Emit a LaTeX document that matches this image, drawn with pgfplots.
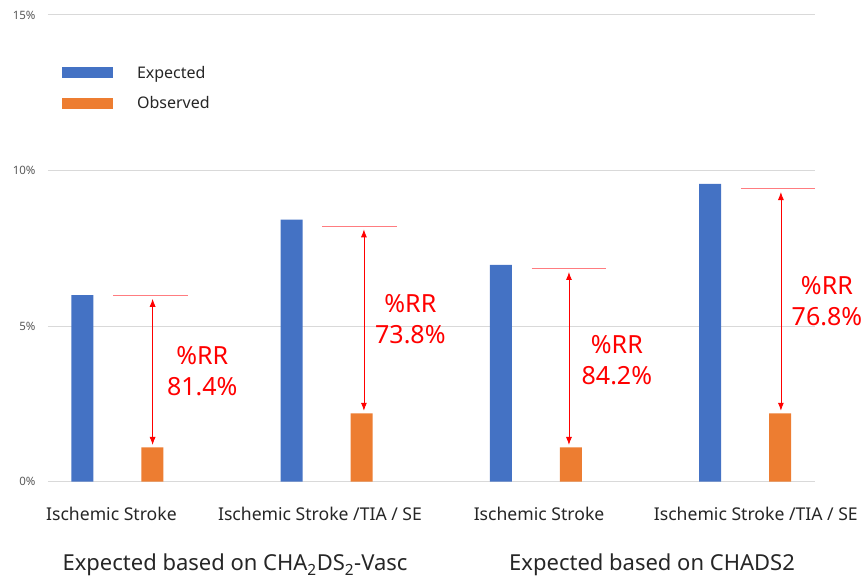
\documentclass[border=0pt]{standalone}
\usepackage{fontspec}
\setmainfont{Noto Sans}
\usepackage{pgfplots}
\pgfplotsset{compat=1.18}
\usetikzlibrary{arrows.meta}
\definecolor{cblue}{HTML}{4472C4}
\definecolor{corange}{HTML}{ED7D31}
\definecolor{cgrid}{HTML}{D9D9D9}
\definecolor{ctick}{HTML}{595959}
\definecolor{cline}{HTML}{FF7C80}
\definecolor{ctext}{HTML}{262626}
\begin{document}
\begin{tikzpicture}[x=1pt,y=1pt]
\path[use as bounding box] (-48,-99.3) rectangle (817,481.7);
\begin{axis}[
  at={(0,0)}, anchor=south west,
  scale only axis, width=767pt, height=466.7pt,
  xmin=-0.332, xmax=3.334, ymin=0, ymax=15,
  clip=false,
  axis line style={draw=none},
  /pgf/number format/assume math mode=true,
  ytick={0,5,10,15},
  yticklabel={\pgfmathprintnumber{\tick}\%},
  yticklabel style={font=\fontsize{11.5}{13}\selectfont, color=ctick, xshift=-9pt},
  ymajorgrids, grid style={cgrid, line width=1pt},
  major tick length=0pt,
  xtick={-0.029,0.968,2.015,3.051},
  xticklabels={Ischemic Stroke, Ischemic Stroke /TIA / SE, Ischemic Stroke, Ischemic Stroke /TIA / SE},
  xticklabel style={font=\fontsize{17.6}{20}\selectfont, color=ctext, yshift=-22pt},
  legend style={at={(axis cs:-0.265,13.36)}, anchor=north west, draw=none, fill=none,
    inner sep=0pt, outer sep=0pt, row sep=17pt, font=\fontsize{16}{18}\selectfont,
    text=ctext, nodes={inner sep=0pt},
    /tikz/every odd column/.append style={column sep=24pt}},
  legend cell align=left,
]
\addplot[ybar, bar width=22pt, bar shift=-35pt, fill=cblue, draw=none,
  legend image code/.code={\fill[cblue] (0pt,-5.5pt) rectangle (51pt,5.5pt);}]
  coordinates {(0,6.00) (1,8.42) (2,6.97) (3,9.57)};
\addlegendentry{Expected}
\addplot[ybar, bar width=22pt, bar shift=35pt, fill=corange, draw=none,
  legend image code/.code={\fill[corange] (0pt,-5.5pt) rectangle (51pt,5.5pt);}]
  coordinates {(0,1.10) (1,2.20) (2,1.10) (3,2.20)};
\addlegendentry{Observed}
% reference lines at expected level
\addplot[cline, line width=1.1pt, forget plot] coordinates {(-0.02,5.98) (0.335,5.98)};
\addplot[cline, line width=1.1pt, forget plot] coordinates {(0.98,8.21) (1.335,8.21)};
\addplot[cline, line width=1.1pt, forget plot] coordinates {(1.98,6.84) (2.335,6.84)};
\addplot[cline, line width=1.1pt, forget plot] coordinates {(2.98,9.41) (3.335,9.41)};
% arrows
\addplot[red, line width=0.8pt, {Latex[length=8pt,width=6pt]}-{Latex[length=8pt,width=6pt]}, forget plot] coordinates {(0.168,5.88) (0.168,1.18)};
\addplot[red, line width=0.8pt, {Latex[length=8pt,width=6pt]}-{Latex[length=8pt,width=6pt]}, forget plot] coordinates {(1.178,8.11) (1.178,2.28)};
\addplot[red, line width=0.8pt, {Latex[length=8pt,width=6pt]}-{Latex[length=8pt,width=6pt]}, forget plot] coordinates {(2.158,6.74) (2.158,1.18)};
\addplot[red, line width=0.8pt, {Latex[length=8pt,width=6pt]}-{Latex[length=8pt,width=6pt]}, forget plot] coordinates {(3.171,9.31) (3.171,2.28)};
% RR labels
\node[red, font=\fontsize{25}{31}\selectfont, align=center] at (axis cs:0.405,3.55) {\%RR\\81.4\%};
\node[red, font=\fontsize{25}{31}\selectfont, align=center] at (axis cs:1.40,5.22) {\%RR\\73.8\%};
\node[red, font=\fontsize{25}{31}\selectfont, align=center] at (axis cs:2.387,3.91) {\%RR\\84.2\%};
\node[red, font=\fontsize{25}{31}\selectfont, align=center] at (axis cs:3.391,5.81) {\%RR\\76.8\%};
% group labels
\node[font=\fontsize{22}{24}\selectfont, text=ctext, anchor=base] at (axis cs:0.562,-2.87) {Expected based on CHA\textsubscript{2}DS\textsubscript{2}-Vasc};
\node[font=\fontsize{22}{24}\selectfont, text=ctext, anchor=base] at (axis cs:2.555,-2.87) {Expected based on CHADS2};
\end{axis}
\end{tikzpicture}
\end{document}
